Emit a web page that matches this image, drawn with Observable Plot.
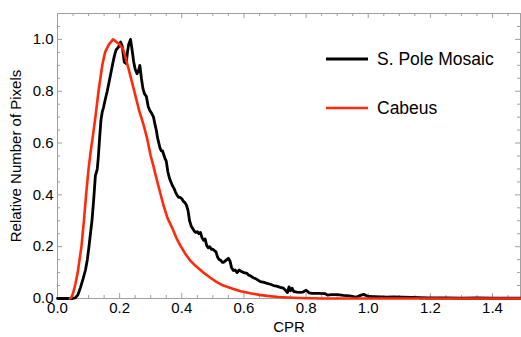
<!DOCTYPE html>
<html><head><meta charset="utf-8">
<script src="https://cdn.jsdelivr.net/npm/d3@7"></script>
<script src="https://cdn.jsdelivr.net/npm/@observablehq/plot@0.6"></script>
<style>body{margin:0;background:#fff;} #chart{position:relative;width:521px;height:337px;}</style>
</head><body><div id="chart"></div>
<script>
// ---- data ----
const seriesNames = ["S. Pole Mosaic", "Cabeus"];
const mosaicCPR = [0,0.05,0.058,0.066,0.074,0.082,0.09,0.096,0.101,0.106,0.111,0.117,0.122,0.126,0.128,0.131,0.135,0.14,0.144,0.148,0.154,0.16,0.165,0.17,0.175,0.18,0.185,0.189,0.196,0.203,0.208,0.212,0.215,0.221,0.225,0.229,0.235,0.24,0.245,0.25,0.256,0.261,0.265,0.27,0.275,0.28,0.286,0.292,0.297,0.303,0.309,0.314,0.318,0.322,0.326,0.33,0.334,0.338,0.342,0.346,0.35,0.355,0.36,0.365,0.37,0.375,0.38,0.385,0.39,0.395,0.4,0.405,0.41,0.415,0.42,0.425,0.43,0.435,0.44,0.445,0.45,0.455,0.46,0.465,0.47,0.475,0.48,0.485,0.49,0.495,0.5,0.505,0.51,0.515,0.52,0.525,0.53,0.535,0.54,0.545,0.55,0.555,0.56,0.566,0.572,0.578,0.585,0.59,0.6,0.61,0.615,0.62,0.63,0.64,0.653,0.665,0.675,0.685,0.695,0.705,0.717,0.727,0.735,0.74,0.745,0.75,0.755,0.76,0.77,0.78,0.79,0.8,0.81,0.82,0.84,0.86,0.87,0.88,0.9,0.92,0.94,0.96,0.975,0.985,1.0,1.02,1.04,1.06,1.08,1.11,1.14,1.19,1.25,1.3,1.35,1.4,1.45,1.49];
const mosaicValue = [0,0,0.003,0.015,0.043,0.075,0.11,0.15,0.197,0.25,0.3,0.39,0.475,0.49,0.5,0.54,0.61,0.69,0.72,0.737,0.77,0.8,0.83,0.86,0.89,0.92,0.945,0.96,0.97,0.99,0.975,0.94,0.912,0.907,0.95,0.98,1.0,0.96,0.915,0.885,0.868,0.88,0.9,0.85,0.81,0.79,0.78,0.74,0.726,0.715,0.7,0.67,0.65,0.62,0.6,0.58,0.57,0.57,0.555,0.54,0.53,0.49,0.465,0.45,0.435,0.425,0.41,0.398,0.39,0.39,0.385,0.375,0.37,0.36,0.34,0.3,0.28,0.27,0.26,0.255,0.258,0.25,0.255,0.235,0.225,0.23,0.205,0.196,0.2,0.19,0.19,0.185,0.18,0.16,0.15,0.148,0.14,0.14,0.145,0.15,0.155,0.145,0.12,0.108,0.11,0.1,0.11,0.105,0.1,0.097,0.09,0.088,0.08,0.075,0.065,0.062,0.058,0.055,0.05,0.048,0.043,0.04,0.03,0.023,0.045,0.03,0.04,0.027,0.025,0.024,0.025,0.032,0.022,0.02,0.02,0.019,0.013,0.015,0.015,0.012,0.01,0.005,0.012,0.016,0.008,0.007,0.006,0.005,0.006,0.005,0.004,0.002,0.002,0.001,0.002,0.001,0.001,0.001];
const cabeusCPR = [0.04,0.045,0.05,0.058,0.065,0.077,0.085,0.092,0.1,0.107,0.113,0.122,0.132,0.144,0.153,0.165,0.179,0.19,0.2,0.212,0.22,0.228,0.245,0.264,0.277,0.289,0.3,0.309,0.315,0.33,0.341,0.354,0.37,0.382,0.395,0.41,0.428,0.445,0.46,0.475,0.492,0.51,0.53,0.55,0.566,0.59,0.62,0.65,0.675,0.71,0.74,0.78,0.82,0.85,1.49];
const cabeusValue = [0,0.005,0.02,0.058,0.1,0.2,0.3,0.4,0.5,0.57,0.62,0.7,0.8,0.9,0.95,0.98,1.0,0.99,0.98,0.96,0.925,0.89,0.81,0.72,0.67,0.615,0.55,0.51,0.48,0.41,0.36,0.31,0.27,0.235,0.205,0.175,0.145,0.125,0.11,0.095,0.08,0.065,0.052,0.043,0.037,0.028,0.02,0.014,0.01,0.006,0.004,0.002,0.001,0,0];
const xMajor = [0,0.2,0.4,0.6,0.8,1.0,1.2,1.4];
const xMinor = [0.05,0.1,0.15,0.25,0.3,0.35,0.45,0.5,0.55,0.65,0.7,0.75,0.85,0.9,0.95,1.05,1.1,1.15,1.25,1.3,1.35,1.45];
const yMajor = [0,0.2,0.4,0.6,0.8,1.0];
const yMinor = [0.05,0.1,0.15,0.25,0.3,0.35,0.45,0.5,0.55,0.65,0.7,0.75,0.85,0.9,0.95,1.05];

const mosaic = mosaicCPR.map((c, i) => ({cpr: c, value: mosaicValue[i]}));
const cabeus = cabeusCPR.map((c, i) => ({cpr: c, value: cabeusValue[i]}));

// ---- layout ----
const W = 521, H = 337, mL = 57, mR = 1, mT = 13, mB = 39;
const innerH = H - mT - mB, innerW = W - mL - mR;
const font = "'Liberation Sans', Arial, Helvetica, sans-serif";
const gray = "#a0a0a0";
const black = "#000000", red = "#ff2a0a";

const plot = Plot.plot({
  width: W, height: H,
  marginLeft: mL, marginRight: mR, marginTop: mT, marginBottom: mB,
  style: {fontFamily: font, background: "#fff", color: "#000", overflow: "visible"},
  x: {domain: [0, 1.49]},
  y: {domain: [0, 1.1]},
  marks: [
    Plot.frame({stroke: gray}),
    // inward ticks bottom/top
    Plot.tickX(xMajor, {x: d => d, stroke: gray, insetTop: innerH - 5}),
    Plot.tickX(xMinor, {x: d => d, stroke: gray, insetTop: innerH - 3}),
    Plot.tickX(xMajor, {x: d => d, stroke: gray, insetBottom: innerH - 5}),
    Plot.tickX(xMinor, {x: d => d, stroke: gray, insetBottom: innerH - 3}),
    // inward ticks left/right
    Plot.tickY(yMajor, {y: d => d, stroke: gray, insetRight: innerW - 5}),
    Plot.tickY(yMinor, {y: d => d, stroke: gray, insetRight: innerW - 3}),
    Plot.tickY(yMajor, {y: d => d, stroke: gray, insetLeft: innerW - 5}),
    Plot.tickY(yMinor, {y: d => d, stroke: gray, insetLeft: innerW - 3}),
    Plot.line(mosaic, {x: "cpr", y: "value", stroke: black, strokeWidth: 2.8, strokeLinejoin: "round"}),
    Plot.line(cabeus, {x: "cpr", y: "value", stroke: red, strokeWidth: 2.6, strokeLinejoin: "round"}),
    Plot.axisX({ticks: xMajor, tickSize: 0, tickPadding: 4, tickFormat: d3.format(".1f"), fontSize: 15,
      label: "CPR", labelAnchor: "center", labelArrow: false, labelOffset: 33}),
    Plot.axisY({ticks: yMajor, tickSize: 0, tickPadding: 4, tickFormat: d3.format(".1f"), fontSize: 15,
      label: "Relative Number of Pixels", labelAnchor: "center", labelArrow: false, labelOffset: 47})
  ]
});
document.getElementById("chart").appendChild(plot);

// ---- legend ----
const svg = d3.select(plot);
const legend = [
  {name: seriesNames[0], color: black, w: 2.8},
  {name: seriesNames[1], color: red, w: 2.6}
];
const lg = svg.append("g")
  .attr("font-family", font)
  .attr("font-size", 17.5)
  .attr("text-anchor", "start");
legend.forEach((d, i) => {
  const yy = 59 + i * 49;
  lg.append("line").attr("x1", 326).attr("x2", 368).attr("y1", yy).attr("y2", yy)
    .attr("stroke", d.color).attr("stroke-width", d.w);
  lg.append("text").attr("x", 377).attr("y", yy + 6.3)
    .attr("fill", "#000").attr("text-anchor", "start")
    .style("font-size", "17.5px").style("font-family", font)
    .text(d.name);
});
</script>
</body></html>
